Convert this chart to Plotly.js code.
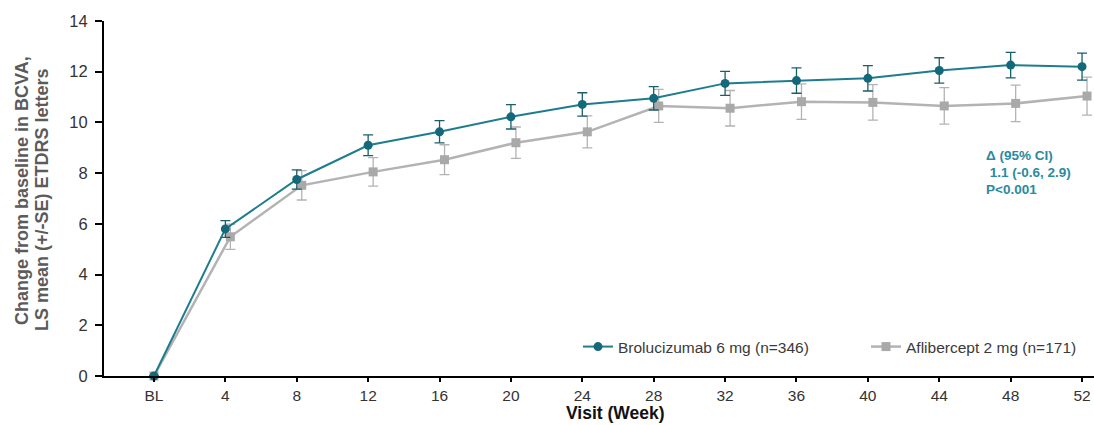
<!DOCTYPE html>
<html>
<head>
<meta charset="utf-8">
<script src="https://cdn.plot.ly/plotly-3.0.1.min.js"></script>
<style>
  html, body { margin: 0; padding: 0; background: #ffffff; }
  #chart { width: 1094px; height: 425px; }
</style>
</head>
<body>
<div id="chart"></div>
<script>
// ---- Data ----
const weeks = [0, 4, 8, 12, 16, 20, 24, 28, 32, 36, 40, 44, 48, 52];
const tickLabels = ['BL', '4', '8', '12', '16', '20', '24', '28', '32', '36', '40', '44', '48', '52'];

const broluName = 'Brolucizumab 6 mg (n=346)';
const broluMean = [0, 5.80, 7.75, 9.10, 9.63, 10.22, 10.71, 10.95, 11.54, 11.65, 11.74, 12.05, 12.26, 12.20];
const broluSE   = [0, 0.33, 0.38, 0.41, 0.44, 0.48, 0.46, 0.46, 0.47, 0.50, 0.50, 0.50, 0.50, 0.53];

const afliName = 'Aflibercept 2 mg (n=171)';
const afliMean = [0, 5.49, 7.52, 8.05, 8.53, 9.20, 9.63, 10.65, 10.56, 10.82, 10.79, 10.65, 10.75, 11.04];
const afliSE   = [0, 0.50, 0.58, 0.56, 0.59, 0.62, 0.63, 0.65, 0.70, 0.70, 0.70, 0.72, 0.72, 0.75];

const yTicks = [0, 2, 4, 6, 8, 10, 12, 14];
const statLines = ['Δ (95% CI)', '\u00a01.1 (-0.6, 2.9)', 'P&lt;0.001'];
const yTitleLines = ['Change from baseline in BCVA,', 'LS mean (+/-SE) ETDRS letters'];
const xTitle = 'Visit (Week)';

// ---- Styling / layout ----
const FONT = 'Liberation Sans, Arial, sans-serif';
const TEAL = '#1d7d8f';
const TEAL_DARK = '#13687a';
const GREY = '#b3b3b3';
const GREY_MK = '#a9a9a9';

// plot-area pixel geometry
const W = 1094, H = 425;
const mL = 104, mR = 0, mT = 21, mB = 49;
const plotW = W - mL - mR, plotH = H - mT - mB;
const px = x => (x - mL) / plotW;
const py = y => (H - mB - y) / plotH;

const dodge = 0.28; // small horizontal offset of the comparator markers
const afliX = weeks.map(w => (w === 0 ? w : w + dodge));

const afliTrace = {
  x: afliX, y: afliMean, name: afliName, legend: 'legend2',
  type: 'scatter', mode: 'lines+markers',
  line: { color: GREY, width: 2.5 },
  marker: { symbol: 'square', size: 9, color: GREY_MK },
  error_y: { type: 'data', array: afliSE, visible: true, color: GREY, thickness: 1.3, width: 5 },
  cliponaxis: false
};
const broluTrace = {
  x: weeks, y: broluMean, name: broluName, legend: 'legend',
  type: 'scatter', mode: 'lines+markers',
  line: { color: TEAL, width: 2 },
  marker: { symbol: 'circle', size: 9, color: TEAL_DARK },
  error_y: { type: 'data', array: broluSE, visible: true, color: '#1b5e6b', thickness: 1.3, width: 5 },
  cliponaxis: false
};

const annotations = [];
// y-axis title as two rotated lines
annotations.push({
  text: yTitleLines[0], xref: 'paper', yref: 'paper', x: px(22), y: py(191),
  textangle: -90, showarrow: false, xanchor: 'center', yanchor: 'middle',
  font: { family: FONT, size: 18, color: '#5b5b5b', weight: 'bold' }
});
annotations.push({
  text: yTitleLines[1], xref: 'paper', yref: 'paper', x: px(42), y: py(200),
  textangle: -90, showarrow: false, xanchor: 'center', yanchor: 'middle',
  font: { family: FONT, size: 18, color: '#5b5b5b', weight: 'bold' }
});
// x-axis title
annotations.push({
  text: '<b>' + xTitle + '</b>', xref: 'paper', yref: 'paper', x: px(615), y: py(425),
  showarrow: false, xanchor: 'center', yanchor: 'bottom',
  font: { family: FONT, size: 17.5, color: '#111111' }
});
// statistics box
const statY = [155, 172, 189];
statLines.forEach((t, i) => {
  annotations.push({
    text: '<b>' + t + '</b>', xref: 'paper', yref: 'paper', x: px(984), y: py(statY[i]),
    showarrow: false, xanchor: 'left', yanchor: 'middle',
    font: { family: FONT, size: 13.5, color: '#2a8aa0' }
  });
});

const legendCommon = {
  orientation: 'h', xanchor: 'left', yanchor: 'middle',
  bgcolor: 'rgba(0,0,0,0)', borderwidth: 0,
  font: { family: FONT, size: 15.5, color: '#3a3a3a' }
};

const layout = {
  width: W, height: H,
  margin: { l: mL, r: mR, t: mT, b: mB, pad: 0 },
  paper_bgcolor: '#ffffff', plot_bgcolor: '#ffffff',
  font: { family: FONT, color: '#333333' },
  showlegend: true,
  legend: Object.assign({}, legendCommon, { x: px(578), y: py(347) }),
  legend2: Object.assign({}, legendCommon, { x: px(866), y: py(347) }),
  xaxis: {
    range: [-2.8, 52.67], tickmode: 'array', tickvals: weeks, ticktext: tickLabels,
    showline: true, linecolor: '#000000', linewidth: 2,
    ticks: 'outside', ticklen: 4, tickwidth: 2, tickcolor: '#000000',
    showgrid: false, zeroline: false, automargin: false,
    tickfont: { family: FONT, size: 15.5, color: '#333333' }
  },
  yaxis: {
    range: [0, 14], tickmode: 'array', tickvals: yTicks,
    showline: true, linecolor: '#000000', linewidth: 2,
    ticks: 'outside', ticklen: 7, tickwidth: 2, tickcolor: '#000000',
    showgrid: false, zeroline: false, automargin: false,
    tickfont: { family: FONT, size: 16.5, color: '#333333' }, ticklabelstandoff: 4
  },
  annotations: annotations
};

Plotly.newPlot('chart', [broluTrace, afliTrace].reverse(), layout, { displayModeBar: false, staticPlot: true });
</script>
</body>
</html>
